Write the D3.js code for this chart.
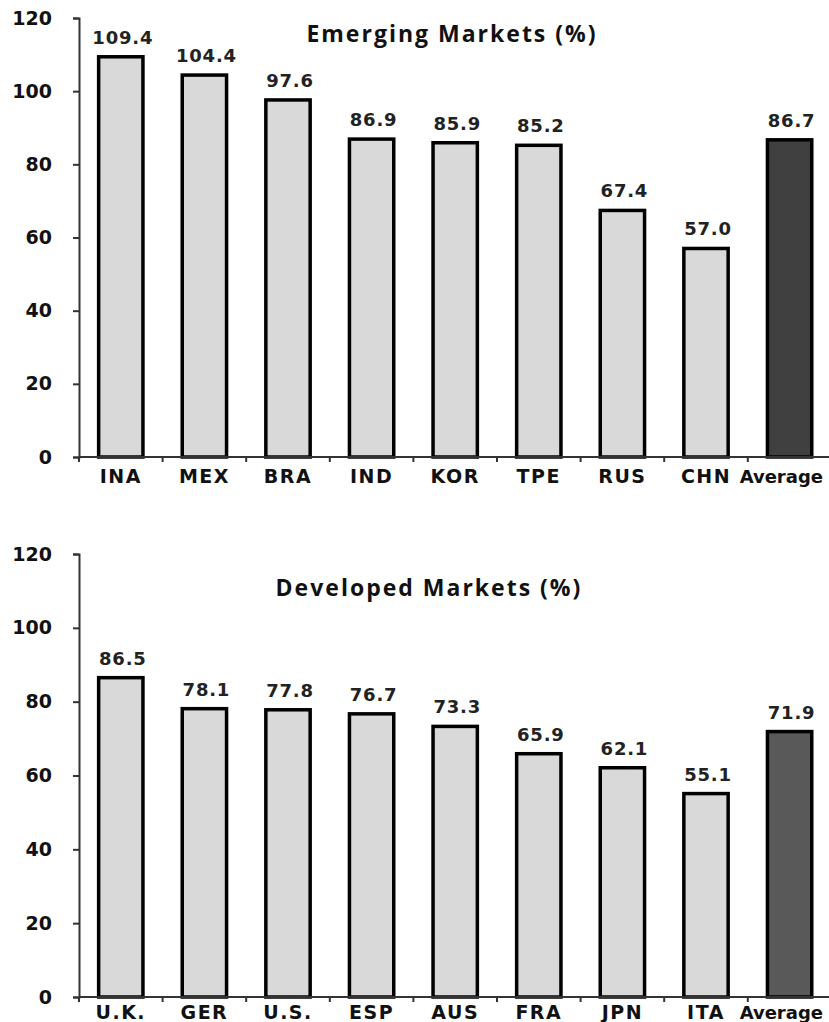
<!DOCTYPE html>
<html>
<head>
<meta charset="utf-8">
<script src="https://cdn.jsdelivr.net/npm/d3@7"></script>
<style>
  body { margin: 0; background: #fff; }
  svg { display: block; }
</style>
</head>
<body>
<div id="chart"></div>
<script>
// data
var emergingCats = ["INA", "MEX", "BRA", "IND", "KOR", "TPE", "RUS", "CHN", "Average"];
var emergingVals = [109.4, 104.4, 97.6, 86.9, 85.9, 85.2, 67.4, 57.0, 86.7];
var developedCats = ["U.K.", "GER", "U.S.", "ESP", "AUS", "FRA", "JPN", "ITA", "Average"];
var developedVals = [86.5, 78.1, 77.8, 76.7, 73.3, 65.9, 62.1, 55.1, 71.9];
var yTicks = [0, 20, 40, 60, 80, 100, 120];

var width = 829;
var height = 1022;

var svg = d3.select("#chart")
            .append("svg")
            .attr("width", width)
            .attr("height", height);

function drawPanel(cats, vals, opt) {
  var g = svg.append("g");

  var x = d3.scaleBand()
            .domain(cats)
            .range([79, 831.4])
            .paddingInner(0.47)
            .paddingOuter(0.235);

  var y = d3.scaleLinear()
            .domain([0, 120])
            .range([opt.bottom, opt.top]);

  // title
  g.append("text")
   .attr("x", opt.titleX)
   .attr("y", opt.titleY)
   .attr("text-anchor", "middle")
   .attr("font-family", "'Open Sans', sans-serif")
   .attr("font-weight", "bold")
   .attr("font-size", 23)
   .attr("letter-spacing", 2)
   .attr("fill", "#111")
   .text(opt.title);

  // bars
  g.selectAll("rect.bar")
   .data(vals)
   .enter()
   .append("rect")
   .attr("class", "bar")
   .attr("x", function(d, i) { return x(cats[i]); })
   .attr("y", function(d) { return y(d); })
   .attr("width", x.bandwidth())
   .attr("height", function(d) { return y(0) - y(d); })
   .attr("fill", function(d, i) { return cats[i] === "Average" ? opt.avgColor : "#d9d9d9"; })
   .attr("stroke", "#000")
   .attr("stroke-width", 3.5);

  // value labels
  g.selectAll("text.val")
   .data(vals)
   .enter()
   .append("text")
   .attr("class", "val")
   .attr("x", function(d, i) { return x(cats[i]) + x.bandwidth() / 2 + 2; })
   .attr("y", function(d) { return y(d) - 13; })
   .attr("text-anchor", "middle")
   .attr("font-family", "'DejaVu Sans', sans-serif")
   .attr("font-weight", "bold")
   .attr("font-size", 18)
   .attr("letter-spacing", 0.8)
   .attr("fill", "#222")
   .text(function(d) { return d.toFixed(1); });

  // y axis
  var yAxis = g.append("g")
               .attr("transform", "translate(79,0)")
               .call(d3.axisLeft(y).tickValues(yTicks).tickSize(6).tickPadding(21));
  yAxis.select(".domain").attr("stroke", "#333").attr("stroke-width", 2);
  yAxis.selectAll(".tick line").attr("stroke", "#333").attr("stroke-width", 2);
  yAxis.selectAll(".tick text")
       .attr("font-family", "'DejaVu Sans', sans-serif")
       .attr("font-weight", "bold")
       .attr("font-size", 19)
       .attr("fill", "#111");

  // x axis: baseline with ticks between categories
  var step = x.step();
  var gap = (step - x.bandwidth()) / 2;
  g.append("line")
   .attr("x1", 79).attr("x2", width)
   .attr("y1", y(0)).attr("y2", y(0))
   .attr("stroke", "#333").attr("stroke-width", 2);

  g.selectAll("line.xtick")
   .data(cats)
   .enter()
   .append("line")
   .attr("class", "xtick")
   .attr("x1", function(d) { return x(d) - gap; })
   .attr("x2", function(d) { return x(d) - gap; })
   .attr("y1", y(0))
   .attr("y2", y(0) + 5)
   .attr("stroke", "#333").attr("stroke-width", 2);

  g.selectAll("text.cat")
   .data(cats)
   .enter()
   .append("text")
   .attr("class", "cat")
   .attr("x", function(d) { return d === "Average" ? width - 6 : x(d) + x.bandwidth() / 2; })
   .attr("y", y(0) + opt.catDy)
   .attr("text-anchor", function(d) { return d === "Average" ? "end" : "middle"; })
   .attr("font-family", "'DejaVu Sans', sans-serif")
   .attr("font-weight", "bold")
   .attr("font-size", function(d) { return d === "Average" ? 18 : 19; })
   .attr("letter-spacing", function(d) { return d === "Average" ? 0 : 1.5; })
   .attr("fill", "#111")
   .text(function(d) { return d; });
}

drawPanel(emergingCats, emergingVals, {
  top: 18, bottom: 457, title: "Emerging Markets (%)",
  titleX: 452, titleY: 42, avgColor: "#404040", catDy: 26
});

drawPanel(developedCats, developedVals, {
  top: 554, bottom: 997, title: "Developed Markets (%)",
  titleX: 429, titleY: 596, avgColor: "#595959", catDy: 22
});
</script>
</body>
</html>
